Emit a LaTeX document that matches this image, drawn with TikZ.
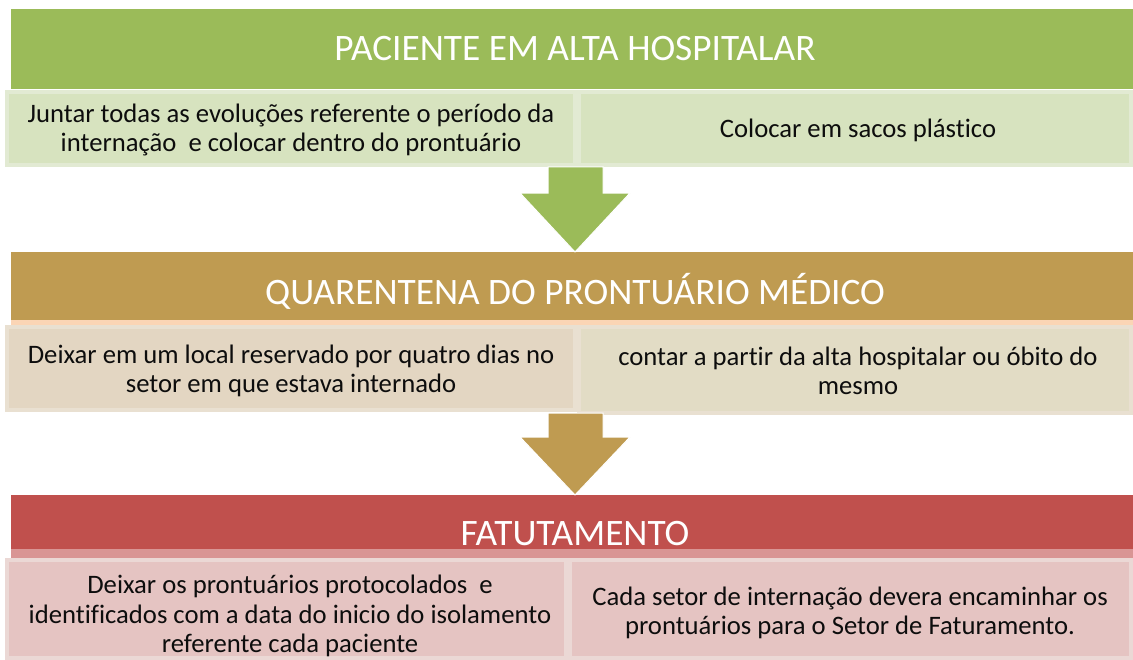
\documentclass[tikz,border=0pt]{standalone}
\usepackage{fontspec}
\setmainfont{Carlito}[Ligatures=NoCommon]
\definecolor{gHead}{HTML}{9BBB59}
\definecolor{gSub}{HTML}{D7E3BF}
\definecolor{gRim}{HTML}{E2EAD3}
\definecolor{tHead}{HTML}{BF9B51}
\definecolor{tStripe}{HTML}{FBD5B5}
\definecolor{tSubL}{HTML}{E3D6C2}
\definecolor{tSubR}{HTML}{E2DCC5}
\definecolor{tRim}{HTML}{E9E0D1}
\definecolor{rHead}{HTML}{C0504D}
\definecolor{rStripe}{HTML}{D99594}
\definecolor{rSub}{HTML}{E5C4C2}
\definecolor{rRim}{HTML}{EBD8D5}
\definecolor{txt}{HTML}{0D0D0D}
\tikzset{
  hdrbox/.style={anchor=north west, inner sep=0, outer sep=0, minimum width=841.5pt},
  stripebox/.style={anchor=north west, inner sep=0, outer sep=0, minimum width=841.5pt},
  subbox/.style={anchor=north west, inner sep=0, outer sep=0, line width=3pt},
  htext/.style={text=white, inner sep=0, font=\fontsize{28}{33}\selectfont},
  btext/.style={text=txt, inner sep=0, align=center, font=\fontsize{20}{22}\selectfont},
  blockarrow/.style={draw=white, line width=0.75pt, line join=miter}
}
\begin{document}
\begin{tikzpicture}[x=0.75pt,y=-0.75pt]
\useasboundingbox[fill=white] (0,0) rectangle (1133,660);

% ---- stage 1
\node[hdrbox, fill=gHead, minimum height=60pt] (h1) at (11,9) {};
\node[subbox, fill=gSub, draw=gRim, minimum width=426pt, minimum height=54.75pt] (s1l) at (7,92) {};
\node[subbox, fill=gSub, draw=gRim, minimum width=414pt, minimum height=54.75pt] (s1r) at (579,92) {};
\node[htext] (h1t) at (575,49) {PACIENTE EM ALTA HOSPITALAR};
\node[btext] (s1lt) at (291,130) {Juntar todas as evoluções referente o período da\\internação \ e colocar dentro do prontuário};
\node[btext] (s1rt) at (858,130) {Colocar em sacos plástico};

% ---- stage 2
\node[hdrbox, fill=tHead, minimum height=51pt] (h2) at (11,252) {};
\node[stripebox, fill=tStripe, minimum height=3.75pt] (h2s) at (11,320) {};
\node[subbox, fill=tSubL, draw=tRim, minimum width=426pt, minimum height=62.25pt] (s2l) at (7,327) {};
\node[subbox, fill=tSubR, draw=tRim, minimum width=414pt, minimum height=64.5pt] (s2r) at (579,327) {};
\node[htext] (h2t) at (575,291) {QUARENTENA DO PRONTUÁRIO MÉDICO};
\node[btext] (s2lt) at (291,371) {Deixar em um local reservado por quatro dias no\\setor em que estava internado};
\node[btext] (s2rt) at (858,371) {contar a partir da alta hospitalar ou óbito do\\mesmo};

% ---- stage 3
\node[hdrbox, fill=rHead, minimum height=40.5pt] (h3) at (11,495) {};
\node[stripebox, fill=rStripe, minimum height=6.75pt] (h3s) at (11,549) {};
\node[subbox, fill=rSub, draw=rRim, minimum width=419.25pt, minimum height=73.5pt] (s3l) at (7,560) {};
\node[subbox, fill=rSub, draw=rRim, minimum width=420.75pt, minimum height=73.5pt] (s3r) at (570,560) {};
\node[htext] (h3t) at (575,534) {FATUTAMENTO};
\node[btext] (s3lt) at (290,616) {Deixar os prontuários protocolados \ e\\identificados com a data do inicio do isolamento\\referente cada paciente};
\node[btext] (s3rt) at (850,613) {Cada setor de internação devera encaminhar os\\prontuários para o Setor de Faturamento.};

% ---- block arrows between stages
\coordinate (mid) at (575,0);
\coordinate (a1tip) at (h2.north -| mid);
\coordinate (a2tip) at (h3.north -| mid);
\draw[blockarrow, fill=gHead] (548,167) -- (548,193) -- (520,193) -- (a1tip) -- (630,193) -- (603,193) -- (603,167) -- cycle;
\draw[blockarrow, fill=tHead] (548,413) -- (548,437) -- (520,437) -- (a2tip) -- (630,437) -- (603,437) -- (603,413) -- cycle;
\end{tikzpicture}
\end{document}
